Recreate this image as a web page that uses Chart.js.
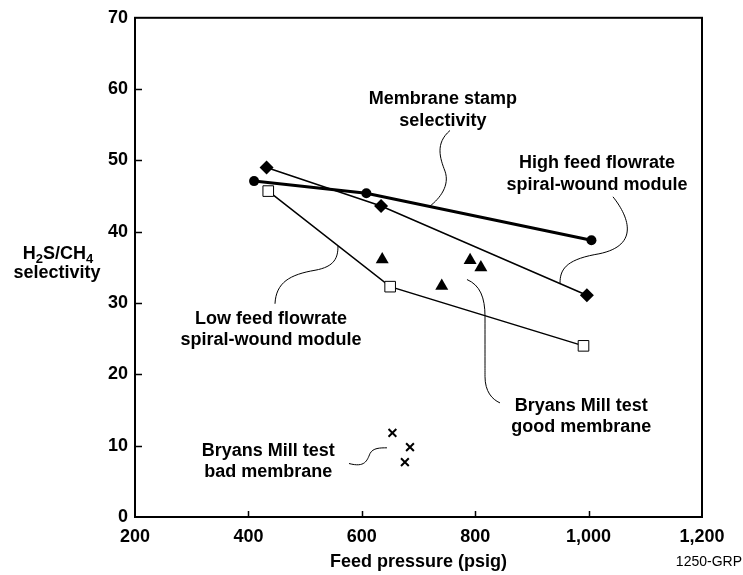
<!DOCTYPE html>
<html>
<head>
<meta charset="utf-8">
<script src="https://cdn.jsdelivr.net/npm/chart.js@4"></script>
<style>
  html, body { margin: 0; padding: 0; background: #fff; }
</style>
</head>
<body>
<canvas id="selChart" width="743" height="575"></canvas>
<script>
// membrane stamp selectivity (filled circles, heavy line)
const stampPressure = [410, 608, 1005];
const stampSel = [47.1, 45.4, 38.8];
// high feed flowrate spiral-wound module (diamonds)
const highPressure = [432, 634, 997];
const highSel = [49.0, 43.6, 31.1];
// low feed flowrate spiral-wound module (open squares)
const lowPressure = [435, 650, 991];
const lowSel = [45.7, 32.3, 24.0];
// Bryans Mill test, good membrane (triangles)
const goodPressure = [636, 741, 791, 810];
const goodSel = [36.1, 32.4, 36.0, 35.0];
// Bryans Mill test, bad membrane (crosses)
const badPressure = [654, 685, 676];
const badSel = [11.8, 9.8, 7.7];

const xTicks = [200, 400, 600, 800, 1000, 1200];
const yTicks = [0, 10, 20, 30, 40, 50, 60, 70];

const FONT = "'Liberation Sans', Arial, Helvetica, sans-serif";

function pts(xs, ys) {
  return xs.map((v, i) => ({ x: v, y: ys[i] }));
}

// callout labels, anchored in data units (first line centre)
const notes = [
  { lines: ['Membrane stamp', 'selectivity'], x: 743, y: 58.6 },
  { lines: ['High feed flowrate', 'spiral-wound module'], x: 1015, y: 49.6 },
  { lines: ['Low feed flowrate', 'spiral-wound module'], x: 440, y: 27.8 },
  { lines: ['Bryans Mill test', 'good membrane'], x: 987, y: 15.6 },
  { lines: ['Bryans Mill test', 'bad membrane'], x: 435, y: 9.3 }
];

// wavy leader lines: start point followed by bezier segments [c1, c2, end]
const leaders = [
  [[755.6, 54.2], [[729, 52.4], [738, 50.3], [746.7, 48.5]], [[755.6, 46.5], [738, 44.7], [720.3, 43.6]]],
  [[1043, 44.9], [[1073, 41.9], [1090.7, 37.8], [1011, 36.8]], [[958.4, 36.0], [949.6, 34.6], [949.6, 32.8]]],
  [[446.9, 29.9], [[448.7, 32.9], [473.4, 34.0], [517.5, 34.6]], [[552.7, 35.1], [558, 36.4], [558, 38.0]]],
  [[785.5, 33.3], [[808.5, 32.5], [817.3, 30.8], [817.3, 28.1]], [[817.3, 23], [817.3, 21], [817.3, 19.7]], [[817.3, 17.6], [829.6, 16.5], [843.7, 16.0]]],
  [[577.4, 7.5], [[605.6, 6.9], [609.2, 7.9], [614.5, 8.9]], [[619.8, 9.7], [632.1, 9.7], [644.4, 9.7]]]
];

const decorations = {
  id: 'decorations',
  afterDraw(chart) {
    const { ctx, chartArea: a, scales: { x, y } } = chart;
    ctx.save();

    // frame
    ctx.strokeStyle = '#000';
    ctx.lineWidth = 2;
    ctx.strokeRect(a.left, a.top, a.right - a.left, a.bottom - a.top);

    // inward tick marks
    ctx.lineWidth = 1.5;
    ctx.beginPath();
    xTicks.forEach(v => {
      const px = Math.round(x.getPixelForValue(v)) + 0.5;
      if (px > a.left + 2 && px < a.right - 2) {
        ctx.moveTo(px, a.bottom);
        ctx.lineTo(px, a.bottom - 6);
      }
    });
    yTicks.forEach(v => {
      const py = Math.round(y.getPixelForValue(v)) + 0.5;
      if (py > a.top + 2 && py < a.bottom - 2) {
        ctx.moveTo(a.left, py);
        ctx.lineTo(a.left + 7, py);
      }
    });
    ctx.stroke();

    // leaders
    ctx.lineWidth = 1;
    leaders.forEach(path => {
      ctx.beginPath();
      ctx.moveTo(x.getPixelForValue(path[0][0]), y.getPixelForValue(path[0][1]));
      path.slice(1).forEach(seg => {
        const p = seg.map(q => [x.getPixelForValue(q[0]), y.getPixelForValue(q[1])]);
        ctx.bezierCurveTo(p[0][0], p[0][1], p[1][0], p[1][1], p[2][0], p[2][1]);
      });
      ctx.stroke();
    });

    // callout text
    ctx.fillStyle = '#000';
    ctx.textAlign = 'center';
    ctx.textBaseline = 'middle';
    ctx.font = 'bold 18px ' + FONT;
    notes.forEach(n => {
      const cx = x.getPixelForValue(n.x);
      const cy = y.getPixelForValue(n.y);
      n.lines.forEach((t, i) => ctx.fillText(t, cx, cy + i * 21.5));
    });

    // y axis title with subscripts
    const parts = [['H', false], ['2', true], ['S/CH', false], ['4', true]];
    const big = 'bold 18px ' + FONT, small = 'bold 13px ' + FONT;
    let w = 0;
    parts.forEach(p => { ctx.font = p[1] ? small : big; w += ctx.measureText(p[0]).width; });
    let tx = 58 - w / 2;
    ctx.textAlign = 'left';
    parts.forEach(p => {
      ctx.font = p[1] ? small : big;
      ctx.fillText(p[0], tx, p[1] ? 259 : 254);
      tx += ctx.measureText(p[0]).width;
    });
    ctx.font = big;
    ctx.textAlign = 'center';
    ctx.fillText('selectivity', 57, 273);

    // figure id
    ctx.font = '14px ' + FONT;
    ctx.textAlign = 'right';
    ctx.fillText('1250-GRP', 742, 562);

    ctx.restore();
  }
};

const tickFont = { family: FONT, size: 18, weight: 'bold' };

new Chart(document.getElementById('selChart'), {
  type: 'scatter',
  data: {
    datasets: [
      {
        data: pts(stampPressure, stampSel),
        showLine: true,
        borderColor: '#000',
        backgroundColor: '#000',
        borderWidth: 3,
        pointStyle: 'circle',
        pointRadius: 5,
        pointBorderWidth: 0
      },
      {
        data: pts(highPressure, highSel),
        showLine: true,
        borderColor: '#000',
        backgroundColor: '#000',
        borderWidth: 1.5,
        pointStyle: 'rectRot',
        pointRadius: 7,
        pointBorderWidth: 0
      },
      {
        data: pts(lowPressure, lowSel),
        showLine: true,
        borderColor: '#000',
        backgroundColor: '#000',
        borderWidth: 1.5,
        pointStyle: 'rect',
        pointRadius: 7.5,
        pointBackgroundColor: '#fff',
        pointBorderColor: '#000',
        pointBorderWidth: 1
      },
      {
        data: pts(goodPressure, goodSel),
        showLine: false,
        backgroundColor: '#000',
        borderColor: '#000',
        pointStyle: 'triangle',
        pointRadius: 7.5,
        pointBorderWidth: 0
      },
      {
        data: pts(badPressure, badSel),
        showLine: false,
        borderColor: '#000',
        pointStyle: 'crossRot',
        pointRadius: 5.5,
        pointBorderWidth: 2
      }
    ]
  },
  options: {
    responsive: false,
    animation: false,
    layout: { padding: { top: 13, right: 41, left: 0, bottom: 0 } },
    plugins: {
      legend: { display: false },
      tooltip: { enabled: false }
    },
    scales: {
      x: {
        type: 'linear',
        min: 200,
        max: 1200,
        afterFit: s => { s.height = 58; },
        afterBuildTicks: s => { s.ticks = xTicks.map(v => ({ value: v })); },
        grid: { display: false, drawTicks: false },
        border: { display: false },
        ticks: {
          padding: 9,
          color: '#000',
          font: tickFont,
          callback: v => v.toLocaleString('en-US')
        },
        title: {
          display: true,
          text: 'Feed pressure (psig)',
          color: '#000',
          font: tickFont,
          padding: { top: 0, bottom: 2.5 }
        }
      },
      y: {
        min: 0,
        max: 70,
        afterFit: s => { s.width = 135; },
        afterBuildTicks: s => { s.ticks = yTicks.map(v => ({ value: v })); },
        grid: { display: false, drawTicks: false },
        border: { display: false },
        ticks: {
          padding: 7,
          color: '#000',
          font: tickFont
        }
      }
    }
  },
  plugins: [decorations]
});
</script>
</body>
</html>
